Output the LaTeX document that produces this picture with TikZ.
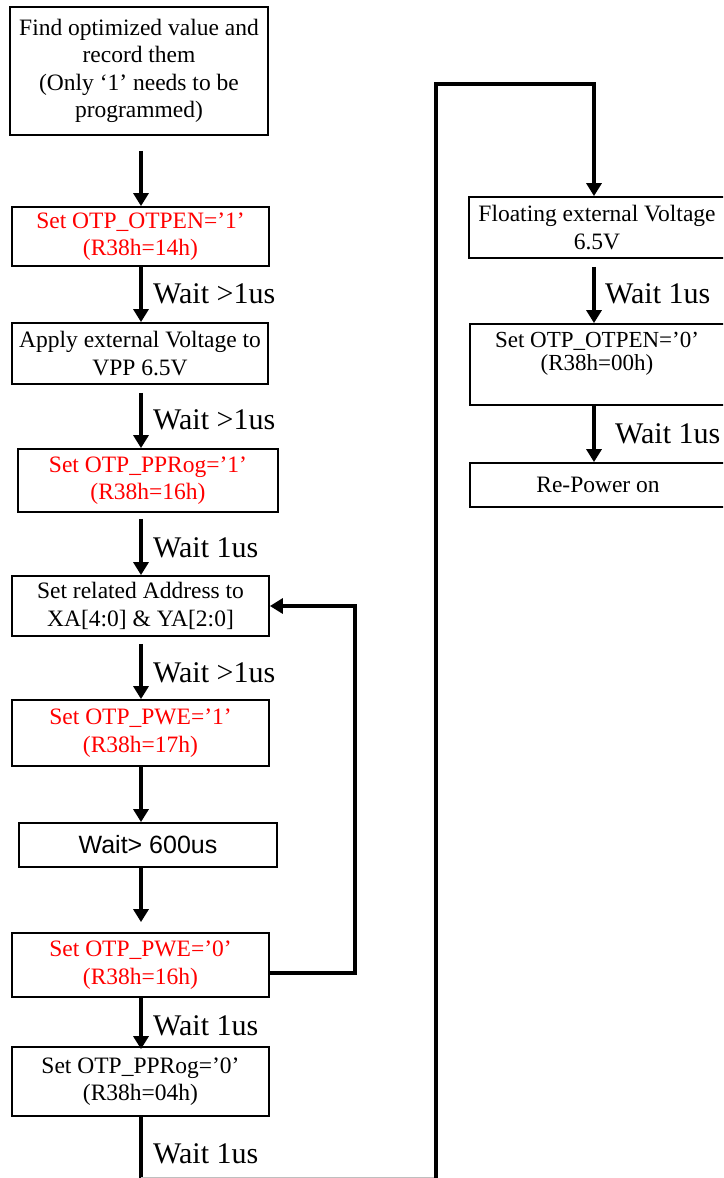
\documentclass[tikz,border=0pt]{standalone}
\usepackage{fontspec}
\setmainfont{Liberation Serif}
\newfontfamily\arialf{Liberation Sans}
\usetikzlibrary{arrows.meta}
\newcommand\mkbox[6]{%
  \node[box, minimum width={(#4-#2)*1pt}, minimum height={(#5-#3)*1pt}, #6]
    (#1) at ({(#2+#4)/2},{(#3+#5)/2})}
\begin{document}
\begin{tikzpicture}[x=1pt,y=-1pt,
  box/.style={draw, line width=1.8pt, inner sep=0pt, align=center,
    font=\fontsize{23.5}{27.5}\selectfont},
  redtxt/.style={text=red},
  arr/.style={line width=3.8pt, -{Triangle[width=15pt,length=13pt]}},
  plain/.style={line width=3.8pt},
  lbl/.style={font=\fontsize{30}{34}\selectfont, anchor=base west, inner sep=0pt}
]
\useasboundingbox (0,0) rectangle (723,1178);
\clip (0,0) rectangle (723,1178);
\fill[white] (0,0) rectangle (723,1178);

\coordinate (colx) at (141,0);
\coordinate (colr) at (594,0);
\coordinate (loopx) at (355,0);

% left column
\mkbox{b1}{10}{7}{268}{135}{}{Find optimized value and\\record them\\(Only ‘1’ needs to be\\programmed)};
\mkbox{b2}{12}{207}{269}{266}{redtxt}{Set OTP\_OTPEN=’1’\\(R38h=14h)};
\mkbox{b3}{12}{323}{268}{384}{}{Apply external Voltage to\\VPP 6.5V};
\mkbox{b4}{18}{449}{278}{512}{redtxt}{Set OTP\_PPRog=’1’\\(R38h=16h)};
\mkbox{b5}{12}{576}{269}{636}{}{Set related Address to\\XA[4:0] \& YA[2:0]};
\mkbox{b6}{12}{700}{269}{766}{redtxt}{Set OTP\_PWE=’1’\\(R38h=17h)};
\mkbox{b7}{19}{823}{277}{867}{font=\arialf\fontsize{25}{28}\selectfont}{Wait> 600us};
\mkbox{b8}{12}{933}{269}{997}{redtxt}{Set OTP\_PWE=’0’\\(R38h=16h)};
\mkbox{b9}{12}{1047}{269}{1116}{}{Set OTP\_PPRog=’0’\\(R38h=04h)};

% right column
\mkbox{b10}{469}{197}{725}{258}{}{Floating external Voltage\\6.5V};
\mkbox{b11}{470}{324}{726}{405}{}{};
\node[align=center, inner sep=0pt, font=\fontsize{23}{23}\selectfont, anchor=base]
  (b11t) at (597,370) {Set OTP\_OTPEN=’0’\\(R38h=00h)};
\mkbox{b12}{470}{463}{726}{507}{}{Re-Power on};

% left arrows
\draw[arr] ([yshift=-15pt]b1.south -| colx) -- (b2.north -| colx);
\draw[arr] (b2.south -| colx) -- (b3.north -| colx);
\draw[arr] ([yshift=-8pt]b3.south -| colx) -- (b4.north -| colx);
\draw[arr] ([yshift=-6pt]b4.south -| colx) -- (b5.north -| colx);
\draw[arr] ([yshift=-7pt]b5.south -| colx) -- (b6.north -| colx);
\draw[arr] (b6.south -| colx) -- (b7.north -| colx);
\draw[arr] (b7.south -| colx) -- ([yshift=10pt]b8.north -| colx);
\draw[arr] (b8.south -| colx) -- ([yshift=-3pt]b9.north -| colx);

% loop back
\draw[arr] ([yshift=-8pt]b8.east) -- ([yshift=-8pt]b8.east -| loopx) |- (b5.east);

% bottom connection to right column
\coordinate (botl) at (141,1182);
\coordinate (botr) at (436,1182);
\coordinate (topr) at (436,84);
\draw[plain] (b9.south -| colx) -- (botl);
\draw[gray!50, line width=0.8pt] (141,1177) -- (436,1177);
\draw[arr] (botr) -- (topr) -| (b10.north -| colr);

% right arrows
\draw[arr] ([yshift=-8pt]b10.south -| colr) -- (b11.north -| colr);
\draw[arr] (b11.south -| colr) -- (b12.north -| colr);

% labels
\node[lbl] (w1) at (153,303) {Wait >1us};
\node[lbl] (w2) at (153,429) {Wait >1us};
\node[lbl] (w3) at (153,557) {Wait 1us};
\node[lbl] (w4) at (153,682) {Wait >1us};
\node[lbl] (w5) at (153,1035) {Wait 1us};
\node[lbl] (w6) at (153,1163) {Wait 1us};
\node[lbl] (w7) at (605,303) {Wait 1us};
\node[lbl] (w8) at (615,443) {Wait 1us};
\end{tikzpicture}
\end{document}
